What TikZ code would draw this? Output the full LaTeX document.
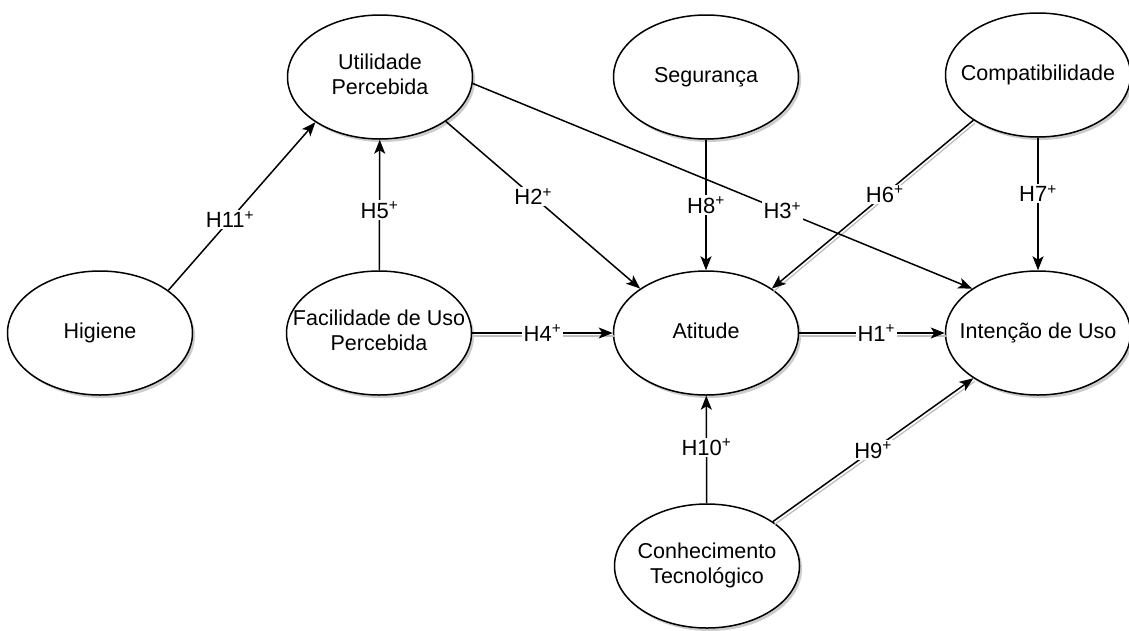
\documentclass[tikz,border=0pt]{standalone}
\usepackage{fontspec}
\setmainfont{Liberation Sans}
\usetikzlibrary{arrows.meta,shapes.geometric,shadows}
\newcommand{\twol}[1]{\makebox[0pt]{\begin{tabular}{@{}c@{}}#1\end{tabular}}}
\newcommand{\hyp}[1]{H#1\textsuperscript{+}}

\begin{document}
\begin{tikzpicture}[x=1pt,y=-1pt,->,>={Stealth[length=14pt,width=11pt,inset=3.5pt]},
                    line width=1.5pt,font=\fontsize{21.5}{25}\selectfont]
  \tikzstyle{construct}=[ellipse,draw=black,fill=white,minimum width=185pt,
    minimum height=124pt,inner sep=0pt,
    drop shadow={shadow xshift=2.5pt,shadow yshift=-3pt,opacity=0.4}]
  \tikzstyle{hlabel}=[fill=white,inner sep=1.5pt,font=\fontsize{22}{24}\selectfont]

  \useasboundingbox (0,0) rectangle (1129,630);

  \node[construct] (util) at (380,77)  {\twol{Utilidade\\Percebida}};
  \node[construct] (seg)  at (706,77)  {\twol{Segurança}};
  \node[construct] (comp) at (1038,75) {\twol{Compatibilidade}};
  \node[construct] (hig)  at (100,333) {\twol{Higiene}};
  \node[construct] (fac)  at (379,333) {\twol{Facilidade de Uso\\Percebida}};
  \node[construct] (ati)  at (706,333) {\twol{Atitude}};
  \node[construct] (int)  at (1038,333) {\twol{Intenção de Uso}};
  \node[construct] (con)  at (707,566) {\twol{Conhecimento\\Tecnológico}};

  % light shadows under some connectors
  \begin{scope}[-,draw=gray!50,line width=1.3pt,
                transform canvas={shift={(1.5pt,-3pt)}}]
    \path (comp.215) edge (ati.34)
          (fac) edge (ati)
          (ati) edge (int)
          (con.34) edge (int.215);
  \end{scope}

  \path
(hig.32)   edge node[hlabel,pos=0.42] {\hyp{11}} (util.215)
(fac)      edge node[hlabel,pos=0.46] {\hyp{5}}  (util)
(util.326) edge node[hlabel,pos=0.45] {\hyp{2}}  (ati.146)
(util.356) edge node[hlabel,pos=0.62] {\hyp{3}}  (int.146)
(seg)      edge node[hlabel,pos=0.5]  {\hyp{8}}  (ati)
(comp.215) edge node[hlabel,pos=0.44] {\hyp{6}}  (ati.34)
(comp)     edge node[hlabel,pos=0.42] {\hyp{7}}  (int)
(fac)      edge node[hlabel,pos=0.5]  {\hyp{4}}  (ati)
(ati)      edge node[hlabel,pos=0.53] {\hyp{1}}  (int)
(con)      edge node[hlabel,pos=0.52] {\hyp{10}} (ati)
(con.34)   edge node[hlabel,pos=0.5]  {\hyp{9}}  (int.215);
\end{tikzpicture}
\end{document}
